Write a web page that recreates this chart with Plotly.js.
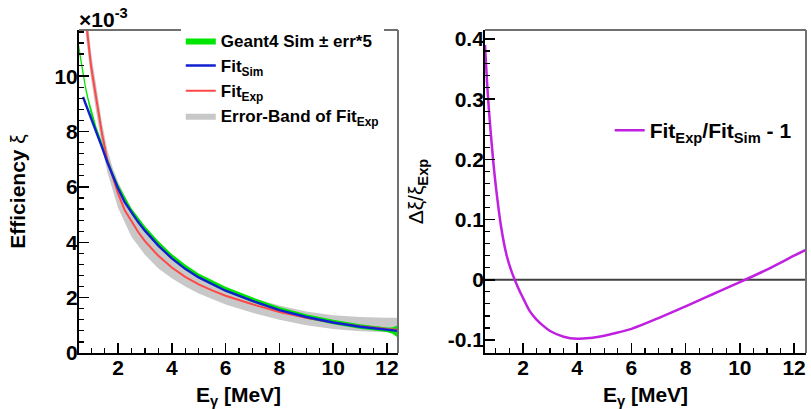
<!DOCTYPE html>
<html>
<head>
<meta charset="utf-8">
<script src="https://cdn.plot.ly/plotly-3.0.1.min.js"></script>
<style>html,body{margin:0;padding:0;background:#fff;}#chart{width:811px;height:409px;}</style>
</head>
<body>
<div id="chart"></div>
<script>
// ---- Data (efficiency in units of 1e-3) ----
// Fit to simulation (blue)
const E_sim   = [0.7, 0.8, 0.9, 1.0, 1.2, 1.4, 1.6, 1.8, 2.0, 2.25, 2.5, 2.75, 3.0, 3.5, 4.0, 4.5, 5.0, 5.5, 6.0, 7.0, 8.0, 9.0, 10.0, 11.0, 12.0, 12.4];
const effSim  = [9.25, 9.0, 8.7, 8.45, 7.95, 7.45, 6.9, 6.4, 5.95, 5.45, 5.07, 4.73, 4.42, 3.88, 3.42, 3.04, 2.73, 2.48, 2.25, 1.88, 1.55, 1.30, 1.10, 0.95, 0.84, 0.80];
// Fit to experiment (red)
const E_exp   = [0.8, 0.9, 1.0, 1.2, 1.4, 1.6, 1.8, 2.0, 2.25, 2.5, 2.75, 3.0, 3.5, 4.0, 4.5, 5.0, 5.5, 6.0, 7.0, 8.0, 9.0, 10.0, 11.0, 12.0, 12.4];
const effExp  = [12.1, 11.1, 10.35, 9.15, 7.95, 6.98, 6.33, 5.77, 5.16, 4.74, 4.37, 4.04, 3.51, 3.09, 2.75, 2.48, 2.26, 2.07, 1.76, 1.48, 1.27, 1.10, 0.97, 0.87, 0.84];
// Error band of Fit_Exp (grey)
const E_band    = [0.8, 1.0, 1.2, 1.4, 1.6, 1.8, 2.0, 2.5, 3.0, 3.5, 4.0, 4.5, 5.0, 6.0, 7.0, 8.0, 9.0, 10.0, 11.0, 12.0, 12.4];
const bandLow   = [11.5, 9.9, 8.65, 7.5, 6.55, 5.85, 5.25, 4.2, 3.55, 3.05, 2.7, 2.4, 2.15, 1.75, 1.45, 1.2, 1.0, 0.87, 0.79, 0.75, 0.74];
const bandHigh  = [12.7, 10.85, 9.6, 8.35, 7.35, 6.7, 6.2, 5.15, 4.45, 3.9, 3.5, 3.1, 2.8, 2.3, 1.98, 1.72, 1.5, 1.36, 1.3, 1.27, 1.27];
// Geant4 simulation +- err*5 (green)
const E_g4    = [0.55, 0.6, 0.7, 0.8, 0.9, 1.0, 1.2, 1.4, 1.6, 1.8, 2.0, 2.5, 3.0, 3.5, 4.0, 4.5, 5.0, 5.5, 6.0, 7.0, 8.0, 9.0, 10.0, 11.0, 12.0, 12.2, 12.4];
const g4Low   = [10.85, 10.6, 9.97, 9.43, 8.98, 8.58, 7.93, 7.38, 6.83, 6.34, 5.89, 5.01, 4.37, 3.83, 3.38, 3.0, 2.69, 2.44, 2.21, 1.83, 1.5, 1.24, 1.04, 0.88, 0.76, 0.70, 0.56];
const g4High  = [11.15, 10.9, 10.23, 9.67, 9.22, 8.82, 8.17, 7.62, 7.07, 6.56, 6.11, 5.23, 4.59, 4.05, 3.58, 3.2, 2.87, 2.62, 2.39, 2.01, 1.66, 1.4, 1.2, 1.04, 0.92, 0.92, 1.0];
// Relative difference Fit_Exp/Fit_Sim - 1
const E_ratio = [0.6, 0.7, 0.8, 0.9, 1.0, 1.2, 1.4, 1.6, 1.8, 2.0, 2.25, 2.5, 2.75, 3.0, 3.5, 4.0, 4.5, 5.0, 5.5, 6.0, 7.0, 8.0, 9.0, 10.0, 11.0, 12.0, 12.45];
const ratio   = [0.39, 0.31, 0.25, 0.198, 0.155, 0.086, 0.040, 0.011, -0.011, -0.030, -0.052, -0.066, -0.0765, -0.085, -0.0945, -0.098, -0.0965, -0.093, -0.0875, -0.0815, -0.0635, -0.044, -0.024, -0.004, 0.017, 0.040, 0.050];

const xTickVals = [2, 4, 6, 8, 10, 12];
const y2TickVals = [-0.1, 0, 0.1, 0.2, 0.3, 0.4];
const y2TickText = ['-0.1', '0', '0.1', '0.2', '0.3', '0.4'];

const FONT = 'Liberation Sans, Arial, Helvetica, sans-serif';

// closed outlines for the filled bands (built from the arrays above)
function bandX(xs) { return xs.concat(xs.slice().reverse()); }
function bandY(lo, hi) { return lo.concat(hi.slice().reverse()); }

const traces = [
  {x: bandX(E_band), y: bandY(bandLow, bandHigh), type: 'scatter', mode: 'lines',
   line: {width: 0, color: '#c8c8c8'}, fill: 'toself', fillcolor: '#c8c8c8',
   name: 'Error-Band of Fit<sub>Exp</sub>', legendrank: 4, hoverinfo: 'skip', xaxis: 'x', yaxis: 'y'},
  {x: bandX(E_g4), y: bandY(g4Low, g4High), type: 'scatter', mode: 'lines',
   line: {width: 0, color: '#00e600'}, fill: 'toself', fillcolor: '#00e600',
   name: 'Geant4 Sim ± err*5', legendrank: 1, hoverinfo: 'skip', xaxis: 'x', yaxis: 'y'},
  {x: E_exp, y: effExp, type: 'scatter', mode: 'lines', line: {width: 2, color: '#ff4848'},
   name: 'Fit<sub>Exp</sub>', legendrank: 3, xaxis: 'x', yaxis: 'y'},
  {x: E_sim, y: effSim, type: 'scatter', mode: 'lines', line: {width: 2.4, color: '#1020d0'},
   name: 'Fit<sub>Sim</sub>', legendrank: 2, xaxis: 'x', yaxis: 'y'},
  {x: E_ratio, y: ratio, type: 'scatter', mode: 'lines', line: {width: 2.5, color: '#c020e0', shape: 'spline'},
   name: 'Fit<sub>Exp</sub>/Fit<sub>Sim</sub> - 1', legend: 'legend2', xaxis: 'x2', yaxis: 'y2'}
];

const tickFont = {family: FONT, size: 21, color: '#000', weight: 'bold'};
function axisBase() {
  return {
    showline: true, linecolor: '#000', linewidth: 2, mirror: false,
    ticks: 'inside', ticklen: 10, tickwidth: 1.5, tickcolor: '#000', ticklabelstandoff: -5,
    showgrid: false, zeroline: false, tickfont: tickFont, fixedrange: true
  };
}

const xa = Object.assign(axisBase(), {
  domain: [0, 0.4388], range: [0.55, 12.41], anchor: 'y', tickvals: xTickVals,
  minor: {ticks: 'inside', ticklen: 5, tickwidth: 1.2, tickcolor: '#000', dtick: 0.5, tick0: 0, showgrid: false},
  title: {text: 'E<sub>γ</sub> [MeV]', font: {family: FONT, size: 21, color: '#000', weight: 'bold'}, standoff: 10}
});
const ya = Object.assign(axisBase(), {
  domain: [0, 1], range: [0, 11.67], anchor: 'x', dtick: 2, tick0: 0,
  minor: {ticks: 'inside', ticklen: 5, tickwidth: 1.2, tickcolor: '#000', dtick: 0.4, tick0: 0, showgrid: false},
  title: {text: 'Efficiency <span style="font-weight:normal">ξ</span>', font: {family: FONT, size: 21, color: '#000', weight: 'bold'}, standoff: 23}
});
const xa2 = Object.assign(axisBase(), {
  domain: [0.5585, 1], range: [0.60, 12.44], anchor: 'y2', tickvals: xTickVals,
  minor: {ticks: 'inside', ticklen: 5, tickwidth: 1.2, tickcolor: '#000', dtick: 0.5, tick0: 0, showgrid: false},
  title: {text: 'E<sub>γ</sub> [MeV]', font: {family: FONT, size: 21, color: '#000', weight: 'bold'}, standoff: 10}
});
const ya2 = Object.assign(axisBase(), {
  domain: [0, 1], range: [-0.1216, 0.415], anchor: 'x2', tickvals: y2TickVals, ticktext: y2TickText,
  minor: {ticks: 'inside', ticklen: 5, tickwidth: 1.2, tickcolor: '#000', dtick: 0.02, tick0: 0, showgrid: false},
  title: {text: '<span style="font-weight:normal">Δξ/ξ</span><sub>Exp</sub>', font: {family: FONT, size: 21, color: '#000', weight: 'bold'}, standoff: 18}
});

const layout = {
  width: 811, height: 409,
  margin: {l: 79, r: 5, t: 30, b: 56},
  paper_bgcolor: '#fff', plot_bgcolor: '#fff',
  font: {family: FONT, color: '#000'},
  xaxis: xa, yaxis: ya, xaxis2: xa2, yaxis2: ya2,
  showlegend: true,
  legend: {
    x: 0.140, y: 1.022, xanchor: 'left', yanchor: 'top',
    bgcolor: 'rgba(255,255,255,1)', borderwidth: 0,
    font: {family: FONT, size: 17, color: '#000', weight: 'bold'},
    tracegroupgap: 0, itemwidth: 30, traceorder: 'normal'
  },
  legend2: {
    x: 0.730, y: 0.752, xanchor: 'left', yanchor: 'top',
    bgcolor: 'rgba(255,255,255,1)', borderwidth: 0,
    font: {family: FONT, size: 21, color: '#000', weight: 'bold'},
    itemwidth: 30
  },
  shapes: [
    {type: 'line', xref: 'x domain', yref: 'y domain', x0: 0, x1: 1, y0: 1, y1: 1, line: {color: '#707070', width: 2}},
    {type: 'line', xref: 'x domain', yref: 'y domain', x0: 1, x1: 1, y0: 0, y1: 1, line: {color: '#707070', width: 2}},
    {type: 'line', xref: 'x2 domain', yref: 'y2 domain', x0: 0, x1: 1, y0: 1, y1: 1, line: {color: '#707070', width: 2}},
    {type: 'line', xref: 'x2 domain', yref: 'y2 domain', x0: 1, x1: 1, y0: 0, y1: 1, line: {color: '#707070', width: 2}},
    {type: 'line', xref: 'x2 domain', yref: 'y2', x0: 0, x1: 1, y0: 0, y1: 0, line: {color: '#404040', width: 2}, layer: 'below'}
  ],
  annotations: [
    {text: '×10<sup>-3</sup>', xref: 'paper', yref: 'paper', x: -0.003, y: 1.037, xanchor: 'left', yanchor: 'middle',
     showarrow: false, font: {family: FONT, size: 21, color: '#000', weight: 'bold'}}
  ]
};

Plotly.newPlot('chart', traces, layout, {displayModeBar: false, staticPlot: true});
</script>
</body>
</html>
